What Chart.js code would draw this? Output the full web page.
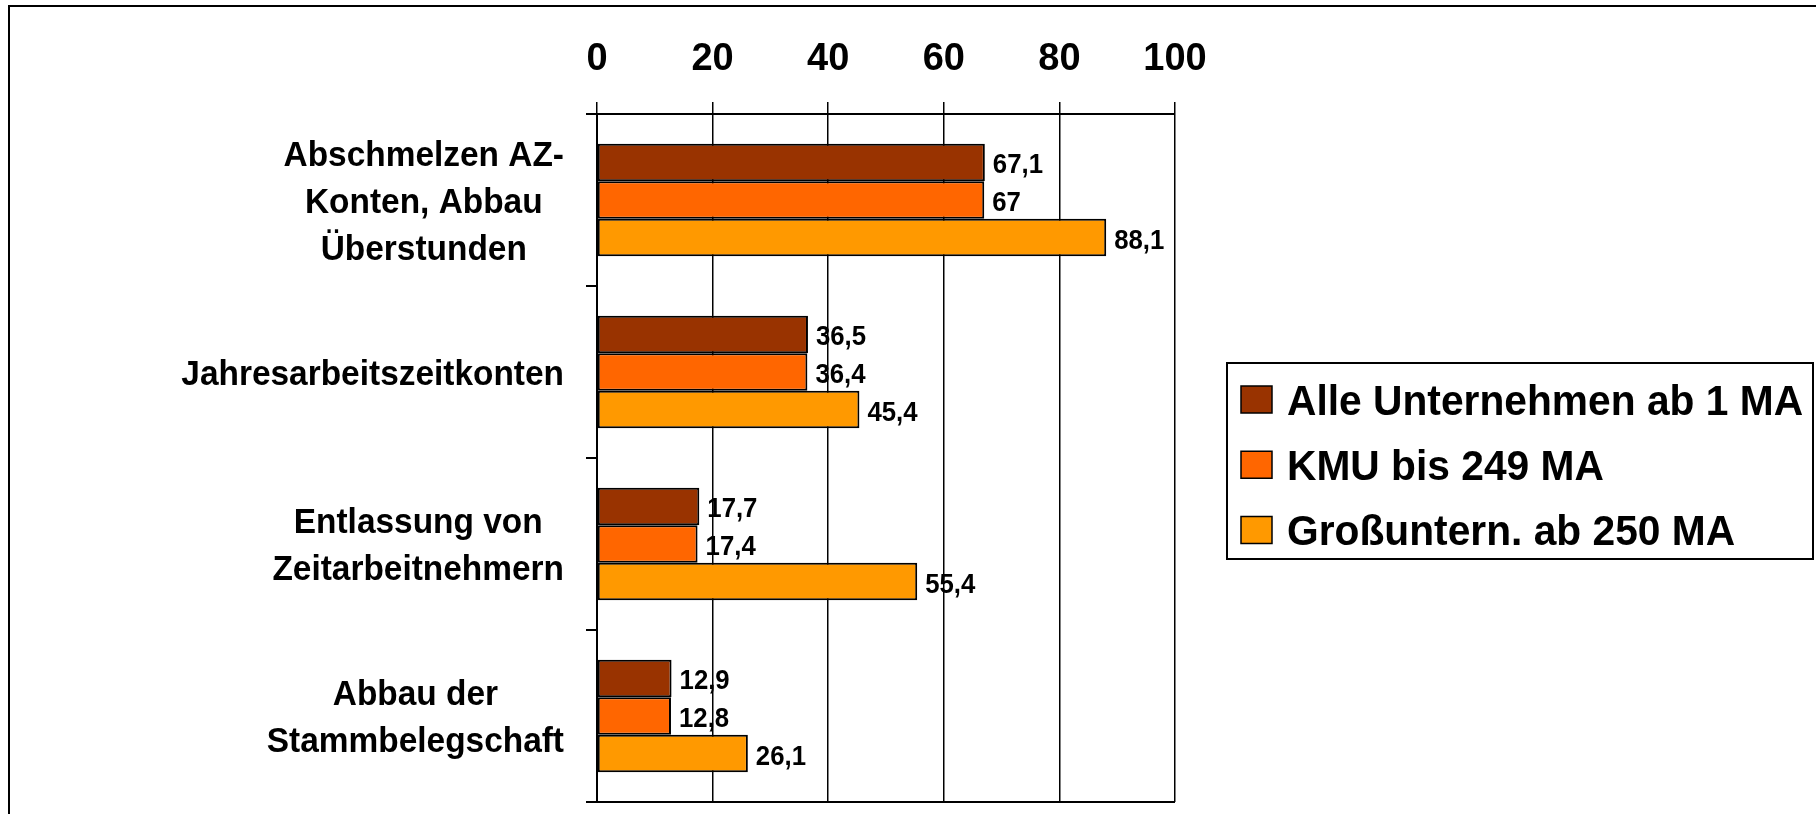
<!DOCTYPE html>
<html>
<head>
<meta charset="utf-8">
<script src="https://cdn.jsdelivr.net/npm/chart.js@4"></script>
<style>
  html, body { margin: 0; padding: 0; background: #fff; overflow: hidden; }
  canvas { display: block; }
</style>
</head>
<body>
<canvas id="chart" width="1816" height="814"></canvas>
<script>
const categories = [
  ["Abschmelzen AZ-", "Konten, Abbau", "Überstunden"],
  ["Jahresarbeitszeitkonten"],
  ["Entlassung von", "Zeitarbeitnehmern"],
  ["Abbau der", "Stammbelegschaft"],
];
const seriesNames = ["Alle Unternehmen ab 1 MA", "KMU bis 249 MA", "Großuntern. ab 250 MA"];
const alleUnternehmen = [67.1, 36.5, 17.7, 12.9];
const kmu = [67, 36.4, 17.4, 12.8];
const grossunternehmen = [88.1, 45.4, 55.4, 26.1];
const xTicks = [0, 20, 40, 60, 80, 100];

const colors = ["#993300", "#FF6600", "#FF9900"];
const FONT = "'Liberation Sans', Arial, sans-serif";

// text slightly condensed, like the original narrow rendering
function squeezeText(ctx, text, x, y, sx) {
  ctx.save();
  ctx.translate(x, y);
  ctx.scale(sx, 1);
  ctx.fillText(text, 0, 0);
  ctx.restore();
}

// outer frame (only top and left edges are inside the picture)
const framePlugin = {
  id: "frame",
  beforeDraw(chart) {
    const { ctx } = chart;
    ctx.save();
    ctx.strokeStyle = "#000";
    ctx.lineWidth = 2;
    ctx.beginPath();
    ctx.moveTo(9, 814);
    ctx.lineTo(9, 6);
    ctx.lineTo(1816, 6);
    ctx.stroke();
    ctx.restore();
  },
};

// category labels: lines centred in a block, block right-aligned
const categoryLabels = {
  id: "categoryLabels",
  afterDraw(chart) {
    const { ctx } = chart;
    const y = chart.scales.y;
    const right = 564;
    const lh = 47;
    const sx = 0.955;
    ctx.save();
    ctx.font = `bold 35px ${FONT}`;
    ctx.fillStyle = "#000";
    ctx.textAlign = "center";
    ctx.textBaseline = "alphabetic";
    categories.forEach((lines, i) => {
      const w = Math.max(...lines.map((l) => ctx.measureText(l).width)) * sx;
      const cx = right - w / 2;
      const cy = y.getPixelForValue(i);
      lines.forEach((l, j) => {
        squeezeText(ctx, l, cx, cy + (j - (lines.length - 1) / 2) * lh + 12.5, sx);
      });
    });
    ctx.restore();
  },
};

// value labels at the end of each bar, German decimal comma
const valueLabels = {
  id: "valueLabels",
  afterDatasetsDraw(chart) {
    const { ctx } = chart;
    ctx.save();
    ctx.font = `bold 28px ${FONT}`;
    ctx.fillStyle = "#000";
    ctx.textAlign = "left";
    ctx.textBaseline = "alphabetic";
    chart.data.datasets.forEach((ds, di) => {
      chart.getDatasetMeta(di).data.forEach((bar, i) => {
        squeezeText(ctx, String(ds.data[i]).replace(".", ","), bar.x + 8, bar.y + 11, 0.92);
      });
    });
    ctx.restore();
  },
};

// boxed legend on the right
const boxLegend = {
  id: "boxLegend",
  afterDraw(chart) {
    const { ctx } = chart;
    const box = { left: 1227, top: 363, right: 1813, bottom: 559 };
    ctx.save();
    ctx.strokeStyle = "#000";
    ctx.lineWidth = 2;
    ctx.strokeRect(box.left, box.top, box.right - box.left, box.bottom - box.top);
    ctx.font = `bold 42px ${FONT}`;
    ctx.textBaseline = "alphabetic";
    ctx.textAlign = "left";
    chart.data.datasets.forEach((ds, i) => {
      const cy = 399.5 + i * 65.25;
      ctx.fillStyle = ds.backgroundColor;
      ctx.fillRect(1241, cy - 13.5, 31, 27);
      ctx.lineWidth = 1.5;
      ctx.strokeRect(1241, cy - 13.5, 31, 27);
      ctx.fillStyle = "#000";
      squeezeText(ctx, ds.label, 1287, cy + 15, 0.97);
    });
    ctx.restore();
  },
};

new Chart(document.getElementById("chart"), {
  type: "bar",
  data: {
    labels: categories.map((c) => c.join(" ")),
    datasets: [alleUnternehmen, kmu, grossunternehmen].map((d, i) => ({
      label: seriesNames[i],
      data: d,
      backgroundColor: colors[i],
      borderColor: "#000",
      borderWidth: 2,
      borderSkipped: false,
      categoryPercentage: 0.655,
      barPercentage: 1.0,
    })),
  },
  options: {
    indexAxis: "y",
    responsive: false,
    animation: false,
    devicePixelRatio: 1,
    layout: { padding: { top: 0, left: 0, right: 641, bottom: 12 } },
    plugins: {
      legend: { display: false },
      tooltip: { enabled: false },
    },
    scales: {
      x: {
        position: "top",
        min: 0,
        max: 100,
        afterFit(scale) { scale.height = 114; },
        afterBuildTicks(scale) { scale.ticks = xTicks.map((v) => ({ value: v })); },
        ticks: {
          color: "#000",
          font: { family: FONT, size: 38, weight: "bold" },
          padding: 20,
        },
        grid: { color: "#000", lineWidth: 1.5, tickLength: 12, tickColor: "#000" },
        border: { color: "#000", width: 2 },
      },
      y: {
        afterFit(scale) { scale.width = 597; },
        ticks: { display: false },
        grid: {
          offset: true,
          color: (c) => (c.tick ? "rgba(0,0,0,0)" : "#000"),
          tickColor: "#000",
          lineWidth: 2,
          tickLength: 11,
        },
        border: { color: "#000", width: 2 },
      },
    },
  },
  plugins: [framePlugin, categoryLabels, valueLabels, boxLegend],
});
</script>
</body>
</html>
